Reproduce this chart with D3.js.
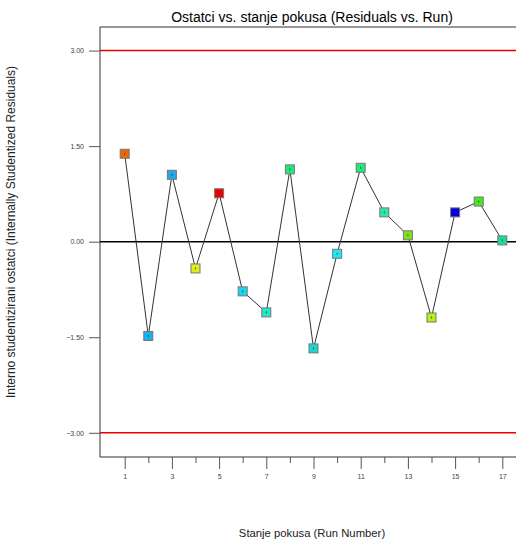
<!DOCTYPE html>
<html><head><meta charset="utf-8">
<script src="https://cdn.jsdelivr.net/npm/d3@7"></script>
<style>body{margin:0;background:#fff}svg{display:block}text{font-family:"Liberation Sans",Arial,sans-serif}</style>
</head><body>
<script>
const runs = [1,2,3,4,5,6,7,8,9,10,11,12,13,14,15,16,17];
const residuals = [1.38,-1.48,1.05,-0.42,0.76,-0.78,-1.11,1.135,-1.675,-0.19,1.16,0.46,0.10,-1.19,0.46,0.63,0.02];
const colors = ["#e8680c","#18b0f0","#20a8e8","#d8f018","#f00000","#18d8f0","#20e8c8","#20e878","#18d8d0","#20e8f0","#20e880","#30e8a0","#80e020","#b8f010","#0000e0","#48e820","#20d8a0"];
const yTicks = [3,1.5,0,-1.5,-3];
const xTicks = [1,3,5,7,9,11,13,15,17];
const xMinor = [2,4,6,8,10,12,14,16];
const limits = [3,-3];

const W=516,H=541;
const svg=d3.select("body").append("svg").attr("width",W).attr("height",H);
const x=d3.scaleLinear().domain([0,18]).range([101.1,101.1+18*23.6]);
const y=d3.scaleLinear().domain([-3.38,3.37]).range([457,27]);
const L=100,T=27,B=457,R=516;

svg.append("text").attr("x",312).attr("y",22).attr("text-anchor","middle").attr("font-size",14).attr("fill","#000").text("Ostatci vs. stanje pokusa (Residuals vs. Run)");

// frame
svg.append("line").attr("x1",L).attr("x2",R).attr("y1",T).attr("y2",T).attr("stroke","#333").attr("stroke-width",1);
svg.append("line").attr("x1",L).attr("x2",L).attr("y1",T).attr("y2",B).attr("stroke","#333").attr("stroke-width",1);
svg.append("line").attr("x1",L).attr("x2",R).attr("y1",B).attr("y2",B).attr("stroke","#333").attr("stroke-width",1);

// y axis
const yAxis=d3.axisLeft(y).tickValues(yTicks).tickFormat(d3.format(".2f")).tickSize(11).tickPadding(5);
const gy=svg.append("g").attr("transform",`translate(${L},0)`).call(yAxis);
gy.select(".domain").remove();
gy.selectAll("line").attr("stroke","#555");
gy.selectAll("text").attr("font-size",7).attr("fill","#444").attr("font-family","Liberation Sans, Arial, sans-serif");

// x axis
const xAxis=d3.axisBottom(x).tickValues(xTicks).tickFormat(d3.format("d")).tickSize(12).tickPadding(5);
const gx=svg.append("g").attr("transform",`translate(0,${B})`).call(xAxis);
gx.select(".domain").remove();
gx.selectAll("line").attr("stroke","#555");
gx.selectAll("text").attr("font-size",7).attr("fill","#444").attr("font-family","Liberation Sans, Arial, sans-serif");
const gxm=svg.append("g").attr("transform",`translate(0,${B})`).call(d3.axisBottom(x).tickValues(xMinor).tickSize(6).tickFormat(""));
gxm.select(".domain").remove();
gxm.selectAll("line").attr("stroke","#555");

// limit lines
svg.selectAll(".lim").data(limits).enter().append("line").attr("x1",L).attr("x2",R)
 .attr("y1",d=>y(d)).attr("y2",d=>y(d)).attr("stroke","#e80000").attr("stroke-width",1.6);
svg.append("line").attr("x1",L).attr("x2",R).attr("y1",y(0)).attr("y2",y(0)).attr("stroke","#000").attr("stroke-width",1.6);

// line
const pts=runs.map((r,i)=>[r,residuals[i]]);
svg.append("path").datum(pts).attr("fill","none").attr("stroke","#333").attr("stroke-width",1)
 .attr("d",d3.line().x(d=>x(d[0])).y(d=>y(d[1])));
svg.selectAll(".pt").data(pts).enter().append("rect")
 .attr("x",d=>x(d[0])-4.5).attr("y",d=>y(d[1])-4.5).attr("width",9).attr("height",9)
 .attr("fill",(d,i)=>colors[i]).attr("stroke","#777").attr("stroke-width",1);
svg.selectAll(".tk").data(pts).enter().append("line")
 .attr("x1",d=>x(d[0])).attr("x2",d=>x(d[0])).attr("y1",d=>y(d[1])-1).attr("y2",d=>y(d[1])+1).attr("stroke","#333").attr("stroke-width",0.8);

// axis titles
svg.append("text").attr("transform","translate(15,232) rotate(-90)").attr("text-anchor","middle").attr("font-size",12).attr("fill","#222").text("Interno studentizirani ostatci (Internally Studentized Residuals)");
svg.append("text").attr("x",312).attr("y",537).attr("text-anchor","middle").attr("font-size",11.3).attr("fill","#222").text("Stanje pokusa (Run Number)");
</script>
</body></html>
